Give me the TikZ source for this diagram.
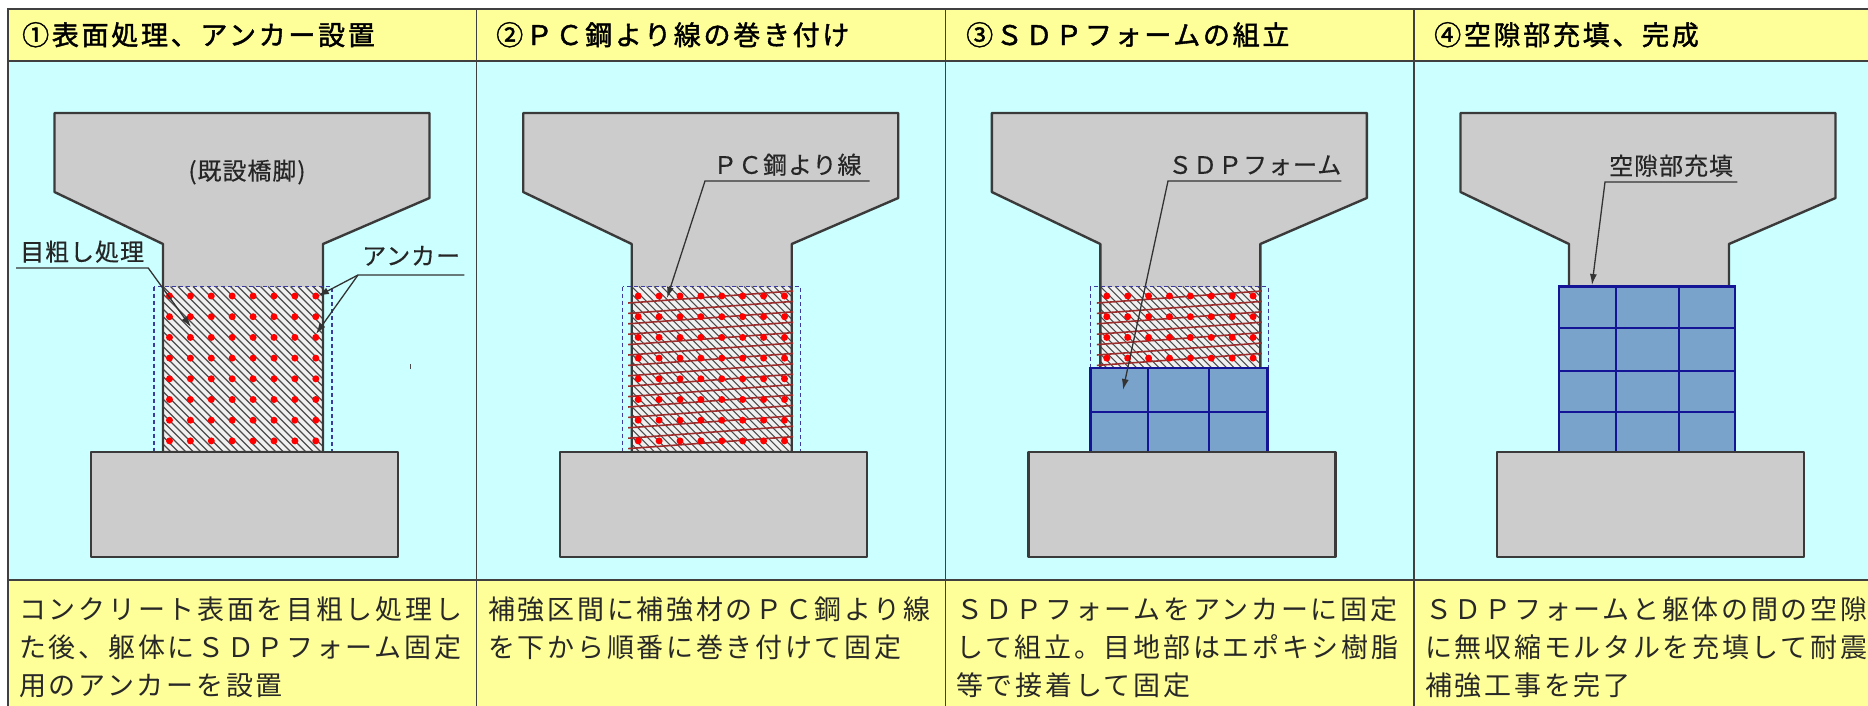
\documentclass[tikz,border=0pt]{standalone}
\usepackage{fontspec}
\usetikzlibrary{arrows.meta}
\newfontfamily\jpbody[LetterSpace=10]{Noto Sans CJK JP}
\newfontfamily\jphead[LetterSpace=10,FakeBold=1.6]{Noto Sans CJK JP}
\newfontfamily\jplabel[LetterSpace=4,FakeBold=0.4]{Noto Sans CJK JP}

\definecolor{hdrfill}{RGB}{255,255,153}
\definecolor{bodyfill}{RGB}{204,255,255}
\definecolor{rulegray}{RGB}{64,64,64}
\definecolor{concretegray}{RGB}{204,204,204}
\definecolor{edgegray}{RGB}{58,58,58}
\definecolor{hatchbg}{RGB}{240,240,240}
\definecolor{hatchgray}{RGB}{75,75,75}
\definecolor{anchorred}{RGB}{255,0,0}
\definecolor{strandred}{RGB}{155,45,45}
\definecolor{formfill}{RGB}{122,163,204}
\definecolor{formline}{RGB}{20,20,150}
\definecolor{dashblue}{RGB}{60,60,160}
\definecolor{txtgray}{RGB}{40,40,40}

% outline of the existing pier (cap + column), panel-relative
\newcommand\pieroutline{(46.5,113) -- (421.5,113) -- (421.5,198) -- (315,244) -- (315,452) -- (155,452) -- (155,244) -- (46.5,192) -- cycle}

\tikzset{
  headtxt/.style={font=\jphead\fontsize{27}{30}\selectfont, text=black, inner sep=0pt, anchor=base west},
  bodytxt/.style={font=\jpbody\fontsize{27}{30}\selectfont, text=txtgray, inner sep=0pt, anchor=base west},
  lbl/.style={font=\jplabel\fontsize{24}{28}\selectfont, text=black!85, inner xsep=4pt, inner ysep=0pt, text depth=7pt, anchor=south west},
  pierlabel/.style={font=\jplabel\fontsize{24}{28}\selectfont, text=black!85, inner sep=0pt},
  leader/.style={draw=black!80, line width=1.3pt, -{Latex[length=11pt,width=7pt]}},
  pieredge/.style={draw=edgegray, line width=2.4pt, line join=round},
  footing/.style={fill=concretegray, draw=edgegray, line width=2.4pt, line join=round},
  hatchline/.style={draw=hatchgray, line width=1.1pt},
  anchordot/.style={fill=anchorred},
  strand/.style={draw=strandred, line width=1.6pt},
  dashbox/.style={draw=dashblue, line width=1.2pt, dash pattern=on 4pt off 3pt},
  formbox/.style={fill=formfill, draw=formline, line width=2.4pt},
  formgrid/.style={draw=formline, line width=1.8pt},
  rule/.style={draw=rulegray, line width=2pt},
}

\begin{document}
\begin{tikzpicture}[x=1pt,y=-1pt]
\useasboundingbox (0,0) rectangle (1868,705);
\fill[white] (0,0) rectangle (1868,705);

% table rows
\fill[hdrfill]  (8,9)   rectangle (1900,61);
\fill[bodyfill] (8,61)  rectangle (1900,580);
\fill[hdrfill]  (8,580) rectangle (1900,720);

% ---------- panel 1: surface roughening, anchors ----------
\begin{scope}[shift={(8,0)}]
  \fill[concretegray] \pieroutline;
  \fill[hatchbg] (155,286.5) rectangle (315,452);
  \begin{scope}
    \clip (155,286.5) rectangle (315,452);
    \foreach \k in {-23,...,22} \draw[hatchline] (155+\k*7.5,286.5) -- ++(170,170);
  \end{scope}
  \draw[pieredge] \pieroutline;
  \foreach \i in {0,...,7} \foreach \j in {0,...,7}
    \fill[anchordot] (161.5+\j*20.9,296+\i*20.7) circle (3.5pt);
  \draw[dashbox] (146,286.5) rectangle (324,452);
  \filldraw[footing] (83,452) rectangle (390,557);
  \draw[draw=hatchgray, line width=1pt] (402,364) -- (402,369);
\end{scope}

% ---------- panel 2: PC strand winding ----------
\begin{scope}[shift={(476.7,0)}]
  \fill[concretegray] \pieroutline;
  \fill[hatchbg] (155,286.5) rectangle (315,452);
  \begin{scope}
    \clip (155,286.5) rectangle (315,452);
    \foreach \k in {-23,...,22} \draw[hatchline] (155+\k*7.5,286.5) -- ++(170,170);
  \end{scope}
  \draw[pieredge] \pieroutline;
  \foreach \i in {0,...,14} \draw[strand] (151.5,303+\i*10.4) -- (316.5,291+\i*10.4);
  \foreach \i in {0,...,7} \foreach \j in {0,...,7}
    \fill[anchordot] (161.5+\j*20.9,296+\i*20.7) circle (3.5pt);
  \draw[dashbox] (146,286.5) rectangle (324,452);
  \filldraw[footing] (83,452) rectangle (390,557);
\end{scope}

% ---------- panel 3: SDP form assembly ----------
\begin{scope}[shift={(945.3,0)}]
  \fill[concretegray] \pieroutline;
  \fill[hatchbg] (155,286.5) rectangle (315,368);
  \begin{scope}
    \clip (155,286.5) rectangle (315,368);
    \foreach \k in {-23,...,22} \draw[hatchline] (155+\k*7.5,286.5) -- ++(170,170);
  \end{scope}
  \draw[pieredge] \pieroutline;
  \foreach \i in {0,...,6} \draw[strand] (151.5,303+\i*10.4) -- (316.5,291+\i*10.4);
  \foreach \i in {0,...,3} \foreach \j in {0,...,7}
    \fill[anchordot] (161.5+\j*20.9,296+\i*20.7) circle (3.5pt);
  \draw[dashbox] (145,286.5) rectangle (323,368);
  \filldraw[formbox] (145,368) rectangle (322,452);
  \draw[formgrid] (203,368) -- (203,452) (264,368) -- (264,452) (145,412) -- (322,412);
  \filldraw[footing] (83,452) rectangle (390,557);
\end{scope}

% ---------- panel 4: gap filling, completion ----------
\begin{scope}[shift={(1414,0)}]
  \fill[concretegray] \pieroutline;
  \draw[pieredge] \pieroutline;
  \filldraw[formbox] (145,286.5) rectangle (321,452);
  \draw[formgrid] (202,286.5) -- (202,452) (265,286.5) -- (265,452)
                  (145,328) -- (321,328) (145,371) -- (321,371) (145,412) -- (321,412);
  \filldraw[footing] (83,452) rectangle (390,557);
\end{scope}

% table rules
\draw[rule] (1900,9) -- (8,9) -- (8,720);
\draw[rule] (8,61) -- (1900,61);
\draw[rule] (8,580) -- (1900,580);
\foreach \x in {476.7,945.3,1414} \draw[rule, line width=1.5pt] (\x,9) -- (\x,720);

% column headings
\node[headtxt] (h1) at (22,45)   {①表面処理、アンカー設置};
\node[headtxt] (h2) at (496,45)  {②ＰＣ鋼より線の巻き付け};
\node[headtxt] (h3) at (966,45)  {③ＳＤＰフォームの組立};
\node[headtxt] (h4) at (1434,45) {④空隙部充填、完成};

% labels and leaders
\node[pierlabel] (pierlbl) at (247,172) {(既設橋脚)};

\node[lbl] (lblrough) at (16,268) {目粗し処理};
\coordinate (tiprough) at (191,327);
\draw[leader] (lblrough.south west) -- (lblrough.south east) -- (tiprough);

\node[lbl, text depth=10pt] (lblanchor) at (358,275) {アンカー};
\coordinate (tipanc1) at (318,296);
\coordinate (tipanc2) at (316,334);
\draw[leader] (lblanchor.south east) -- (lblanchor.south west) -- (tipanc1);
\draw[leader] (lblanchor.south west) -- (tipanc2);

\node[lbl, inner xsep=8pt] (lblpc) at (705,181) {ＰＣ鋼より線};
\coordinate (tippc) at (667,298);
\draw[leader] (lblpc.south east) -- (lblpc.south west) -- (tippc);

\node[lbl, inner xsep=0pt] (lblsdp) at (1168,181) {ＳＤＰフォーム};
\coordinate (tipsdp) at (1123,390);
\draw[leader] (lblsdp.south east) -- (lblsdp.south west) -- (tipsdp);

\node[lbl] (lblfill) at (1605,182) {空隙部充填};
\coordinate (tipfill) at (1592,285);
\draw[leader] (lblfill.south east) -- (lblfill.south west) -- (tipfill);

% step descriptions
\node[bodytxt] (d1a) at (19,619) {コンクリート表面を目粗し処理し};
\node[bodytxt] (d1b) at (19,657) {た後、躯体にＳＤＰフォーム固定};
\node[bodytxt] (d1c) at (19,695) {用のアンカーを設置};

\node[bodytxt] (d2a) at (488,619) {補強区間に補強材のＰＣ鋼より線};
\node[bodytxt] (d2b) at (488,657) {を下から順番に巻き付けて固定};

\node[bodytxt] (d3a) at (956,619) {ＳＤＰフォームをアンカーに固定};
\node[bodytxt] (d3b) at (956,657) {して組立。目地部はエポキシ樹脂};
\node[bodytxt] (d3c) at (956,695) {等で接着して固定};

\node[bodytxt] (d4a) at (1425,619) {ＳＤＰフォームと躯体の間の空隙};
\node[bodytxt] (d4b) at (1425,657) {に無収縮モルタルを充填して耐震};
\node[bodytxt] (d4c) at (1425,695) {補強工事を完了};
\end{tikzpicture}
\end{document}
